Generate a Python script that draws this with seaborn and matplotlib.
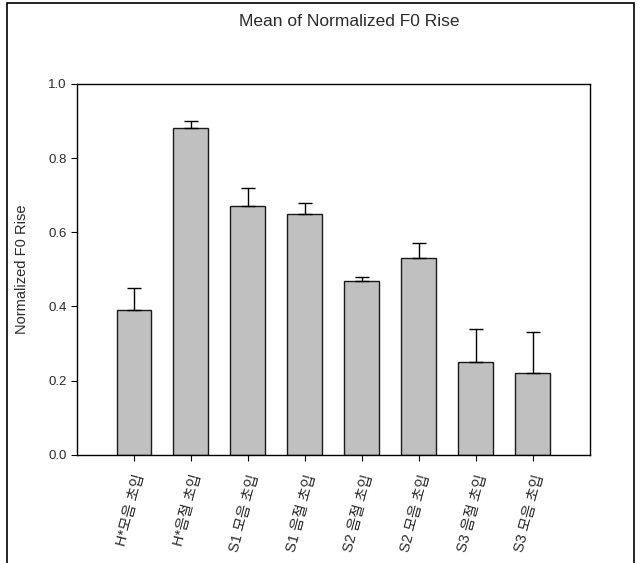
import matplotlib
matplotlib.use("Agg")
import matplotlib.pyplot as plt
import seaborn as sns
import numpy as np
from matplotlib.patches import Rectangle

# Chart values
conditions = ["H*모음 초입", "H*음절 초입", "S1 모음 초입", "S1 음절 초입",
              "S2 음절 초입", "S2 모음 초입", "S3 음절 초입", "S3 모음 초입"]
mean_rise = [0.39, 0.88, 0.67, 0.65, 0.47, 0.53, 0.25, 0.22]
rise_err = [0.06, 0.02, 0.05, 0.03, 0.01, 0.04, 0.09, 0.11]
y_ticks = [0.0, 0.2, 0.4, 0.6, 0.8, 1.0]

sns.set_theme(style="ticks")
plt.rcParams['font.family'] = ['Liberation Sans', 'Noto Sans CJK KR', 'DejaVu Sans']
plt.rcParams.update({
    'text.color': '#2a2a2a',
    'axes.labelcolor': '#2a2a2a',
    'xtick.color': 'black',
    'ytick.color': 'black',
    'xtick.labelcolor': '#2a2a2a',
    'ytick.labelcolor': '#2a2a2a',
    'axes.edgecolor': 'black',
})

fig = plt.figure(figsize=(6.41, 5.63), dpi=100)
ax = fig.add_axes([0.120, 0.192, 0.800, 0.659])

sns.barplot(x=conditions, y=mean_rise, color="#c0c0c0", edgecolor="#1a1a1a",
            linewidth=1.0, width=0.61, saturation=1, ax=ax)
ax.errorbar(np.arange(len(conditions)), mean_rise,
            yerr=[np.zeros(len(rise_err)), rise_err],
            fmt='none', ecolor='black', elinewidth=1.0, capsize=5, capthick=1.0)

ax.set_xlim(-1, len(conditions))
ax.set_ylim(0, 1.0)
ax.set_yticks(y_ticks)
ax.set_yticklabels([f"{v:.1f}" for v in y_ticks], fontsize=9.5)
ax.set_ylabel("Normalized F0 Rise", fontsize=10.5, labelpad=14)
ax.set_xlabel("")
ax.tick_params(axis='both', direction='out', length=4, width=0.8)
ax.tick_params(axis='x', pad=9)
plt.setp(ax.get_xticklabels(), rotation=75, ha='right', va='top',
         rotation_mode='anchor', fontsize=10.5)
for s in ax.spines.values():
    s.set_visible(True)
    s.set_linewidth(1.0)

fig.text(0.545, 0.962, "Mean of Normalized F0 Rise", ha='center', va='center', fontsize=12.5)

# outer frame around the graph page
fig.patches.append(Rectangle((0.011, -0.1), 0.978, 1.095, transform=fig.transFigure,
                             fill=False, edgecolor='black', linewidth=1.2))

fig.savefig("out.png", dpi=100)
